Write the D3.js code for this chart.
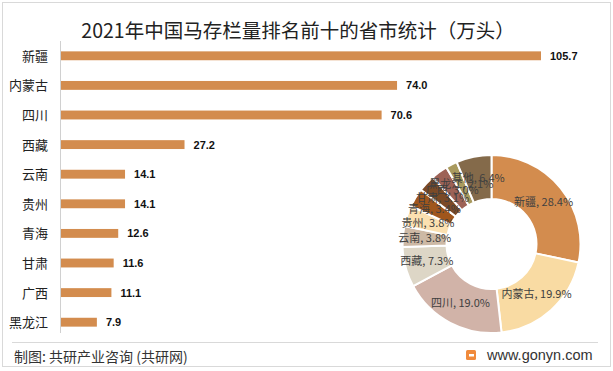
<!DOCTYPE html>
<html><head><meta charset="utf-8">
<script src="https://cdn.jsdelivr.net/npm/d3@7"></script>
<style>
html,body{margin:0;padding:0;background:#fff;}
svg{display:block;font-family:"Noto Sans CJK SC","Microsoft YaHei",sans-serif;}
</style></head>
<body>
<svg id="c" width="613" height="371"></svg>
<script>
const categories = ["新疆","内蒙古","四川","西藏","云南","贵州","青海","甘肃","广西","黑龙江"];
const values = [105.7,74.0,70.6,27.2,14.1,14.1,12.6,11.6,11.1,7.9];
const pieNames = ["新疆","内蒙古","四川","西藏","云南","贵州","青海","甘肃","广西","黑龙江","其他"];
const piePct = [28.4,19.9,19.0,7.3,3.8,3.8,3.4,3.1,3.0,2.1,6.4];
const pieColors = ["#d38c4e","#f9dba3","#d1b3a8","#ddd6c6","#cdb9a5","#fbe0b0","#a0561c","#7b4a26","#9d6256","#a99a5e","#846a4a"];

const svg = d3.select("#c");
// frame
svg.append("rect").attr("x",2.5).attr("y",2.5).attr("width",608).attr("height",364)
  .attr("fill","#fff").attr("stroke","#d9d9d9");

// title
svg.append("text").attr("x",298).attr("y",38).attr("text-anchor","middle")
  .attr("font-size",19.5).attr("fill","#222").text("2021年中国马存栏量排名前十的省市统计（万头）");

// bar chart
const x = d3.scaleLinear().domain([0,105.7]).range([61,541]);
const y = d3.scaleBand().domain(categories).range([41,337]).paddingInner(0.7).paddingOuter(0.35);
svg.append("line").attr("x1",60.5).attr("x2",60.5).attr("y1",41).attr("y2",333).attr("stroke","#d0d0d0");
svg.selectAll("rect.bar").data(categories).enter().append("rect").attr("class","bar")
  .attr("x",x(0)).attr("y",d=>y(d)).attr("height",y.bandwidth())
  .attr("width",(d,i)=>x(values[i])-x(0)).attr("fill","#d38c4e");
svg.selectAll("text.val").data(categories).enter().append("text")
  .attr("x",(d,i)=>x(values[i])+9).attr("y",d=>y(d)+y.bandwidth()/2+4)
  .attr("font-size",11).attr("font-weight","bold").attr("fill","#111")
  .attr("font-family","Liberation Sans, Arial, sans-serif")
  .text((d,i)=>values[i].toFixed(1));
svg.selectAll("text.cat").data(categories).enter().append("text")
  .attr("x",48).attr("y",d=>y(d)+y.bandwidth()/2+5).attr("text-anchor","end")
  .attr("font-size",13).attr("fill","#222").text(d=>d);

// donut
const cx=491.5, cy=244;
const pie = d3.pie().sort(null).value(d=>d)(piePct);
const arc = d3.arc().innerRadius(45).outerRadius(89);
const g = svg.append("g").attr("transform",`translate(${cx},${cy})`);
g.selectAll("path").data(pie).enter().append("path").attr("d",arc)
  .attr("fill",(d,i)=>pieColors[i]).attr("stroke","#fff").attr("stroke-width",2);
g.selectAll("text").data(pie).enter().append("text")
  .attr("transform",d=>{const c=arc.centroid(d);return `translate(${c[0]},${c[1]+4})`;})
  .attr("text-anchor","middle").attr("font-size",11).attr("fill","#404040")
  .text((d,i)=>`${pieNames[i]}, ${piePct[i].toFixed(1)}%`);

// footer
svg.append("line").attr("x1",12).attr("x2",598).attr("y1",342.5).attr("y2",342.5).attr("stroke","#d9d9d9");
svg.append("text").attr("x",14).attr("y",362).attr("font-size",14).attr("fill","#333")
  .text("制图: 共研产业咨询 (共研网)");
const lg = svg.append("g").attr("transform","translate(466,350)");
lg.append("rect").attr("width",10).attr("height",10).attr("rx",1.5).attr("fill","#f08a3c");
lg.append("rect").attr("x",3).attr("y",4).attr("width",5).attr("height",2.5).attr("fill","#fff");
svg.append("text").attr("x",487).attr("y",360).attr("font-size",14.5).attr("fill","#333")
  .attr("font-family","Liberation Sans, Arial, sans-serif").text("www.gonyn.com");
</script>
</body></html>
